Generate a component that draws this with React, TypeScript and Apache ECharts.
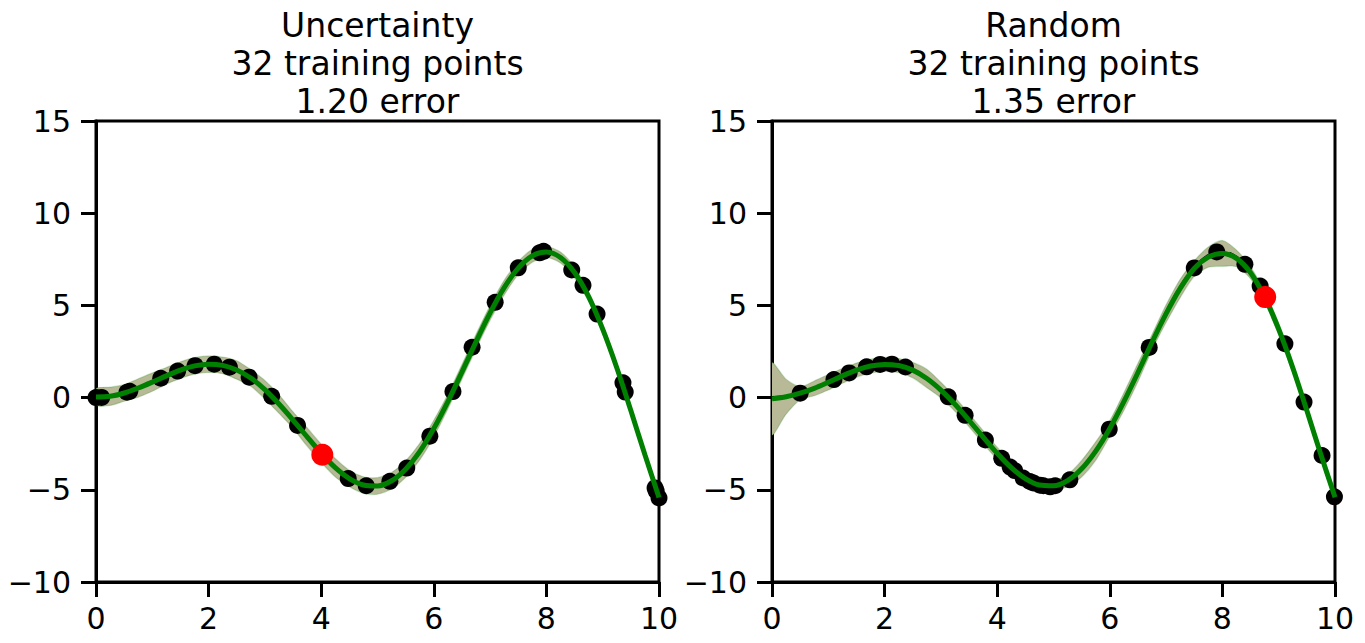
import React, { useEffect, useRef } from "react";
import * as echarts from "echarts";

// sample positions of the curves (x)
const X = [0, 0.25, 0.5, 0.75, 1, 1.25, 1.5, 1.75, 2, 2.25, 2.5, 2.75, 3, 3.25, 3.5, 3.75, 4, 4.25, 4.5, 4.75, 5, 5.25, 5.5, 5.75, 6, 6.25, 6.5, 6.75, 7, 7.25, 7.5, 7.75, 8, 8.25, 8.5, 8.75, 9, 9.25, 9.5, 9.75, 10];

// true function (black dashed)
const TRUE_Y = [0, 0.06, 0.24, 0.51, 0.84, 1.19, 1.5, 1.72, 1.82, 1.75, 1.5, 1.05, 0.42, -0.35, -1.23, -2.14, -3.03, -3.8, -4.4, -4.75, -4.79, -4.51, -3.88, -2.93, -1.68, -0.21, 1.4, 3.04, 4.6, 5.97, 7.04, 7.71, 7.92, 7.61, 6.79, 5.47, 3.71, 1.61, -0.71, -3.12, -5.44];

// left panel: prediction and half-width of the band
const LEFT_MEAN = [0.03, 0.07, 0.25, 0.52, 0.84, 1.18, 1.49, 1.72, 1.81, 1.75, 1.5, 1.06, 0.43, -0.35, -1.22, -2.13, -3.02, -3.8, -4.39, -4.74, -4.79, -4.51, -3.88, -2.93, -1.68, -0.22, 1.39, 3.03, 4.59, 5.96, 7.02, 7.69, 7.9, 7.6, 6.78, 5.47, 3.71, 1.62, -0.7, -3.1, -5.42];
const LEFT_HALF = [0.45, 0.5, 0.45, 0.5, 0.5, 0.45, 0.45, 0.45, 0.45, 0.45, 0.5, 0.45, 0.5, 0.5, 0.45, 0.5, 0.5, 0.5, 0.45, 0.45, 0.45, 0.45, 0.45, 0.45, 0.45, 0.4, 0.4, 0.4, 0.4, 0.4, 0.35, 0.35, 0.3, 0.3, 0.3, 0.25, 0.25, 0.2, 0.2, 0.2, 0.15];

// right panel: prediction and half-width of the band
const RIGHT_MEAN = [-0.07, 0.05, 0.24, 0.5, 0.83, 1.18, 1.49, 1.71, 1.8, 1.74, 1.49, 1.04, 0.41, -0.36, -1.23, -2.14, -3.02, -3.8, -4.39, -4.74, -4.78, -4.5, -3.86, -2.9, -1.67, -0.22, 1.36, 3.0, 4.55, 5.92, 7.0, 7.62, 7.82, 7.55, 6.77, 5.46, 3.71, 1.62, -0.7, -3.1, -5.4];
const RIGHT_HALF = [1.95, 0.95, 0.35, 0.4, 0.42, 0.4, 0.38, 0.38, 0.38, 0.38, 0.42, 0.5, 0.42, 0.38, 0.35, 0.35, 0.33, 0.3, 0.3, 0.3, 0.3, 0.32, 0.45, 0.5, 0.42, 0.48, 0.5, 0.42, 0.48, 0.5, 0.42, 0.55, 0.7, 0.45, 0.32, 0.3, 0.32, 0.3, 0.25, 0.25, 0.22];

// training points
const LEFT_PTS_X = [0, 0.1, 0.55, 0.6, 1.15, 1.45, 1.76, 2.1, 2.37, 2.72, 3.12, 3.58, 4.48, 4.8, 5.22, 5.52, 5.93, 6.34, 6.68, 7.09, 7.5, 7.88, 7.95, 8.45, 8.65, 8.9, 9.36, 9.4, 9.93, 9.95, 10];
const LEFT_PTS_Y = [0, 0.01, 0.29, 0.34, 1.05, 1.44, 1.73, 1.81, 1.65, 1.11, 0.07, -1.51, -4.39, -4.78, -4.54, -3.82, -2.09, 0.33, 2.73, 5.17, 7.04, 7.85, 7.93, 6.92, 6.09, 4.53, 0.8, 0.3, -4.9, -5.06, -5.44];
const RIGHT_PTS_X = [0.5, 1.1, 1.37, 1.68, 1.92, 2.13, 2.37, 3.13, 3.43, 3.79, 4.08, 4.23, 4.31, 4.46, 4.58, 4.64, 4.76, 4.82, 4.94, 5.03, 5.29, 5.99, 6.7, 7.5, 7.9, 8.4, 8.67, 9.11, 9.45, 9.77, 9.99];
const RIGHT_PTS_Y = [0.24, 0.98, 1.34, 1.67, 1.8, 1.81, 1.66, 0.04, -0.96, -2.3, -3.29, -3.77, -3.96, -4.36, -4.55, -4.63, -4.75, -4.78, -4.84, -4.78, -4.46, -1.71, 2.72, 7.03, 7.9, 7.23, 6.05, 2.92, -0.24, -3.14, -5.38];

// next query point (red)
const LEFT_QUERY = [4.02, -3.1];
const RIGHT_QUERY = [8.76, 5.45];

const TITLES = ["Uncertainty\n32 training points\n1.20 error", "Random\n32 training points\n1.35 error"];

const X_TICK = { min: 0, max: 10, interval: 2 };
const Y_TICK = { min: -10, max: 15, interval: 5 };

const FONT = "DejaVu Sans";

export default function App() {
  const ref = useRef<HTMLDivElement>(null);
  useEffect(() => {
    if (!ref.current) return;
    const chart = echarts.init(ref.current, undefined, { renderer: "svg" });
    const grids = [
      { left: 96, top: 121, width: 563, height: 461 },
      { left: 772, top: 121, width: 563, height: 461 },
    ];
    const panels = [
      { mean: LEFT_MEAN, half: LEFT_HALF, px: LEFT_PTS_X, py: LEFT_PTS_Y, q: LEFT_QUERY },
      { mean: RIGHT_MEAN, half: RIGHT_HALF, px: RIGHT_PTS_X, py: RIGHT_PTS_Y, q: RIGHT_QUERY },
    ];
    const axisCommon = {
      axisLine: { show: true, onZero: false, lineStyle: { color: "#000", width: 3 } },
      axisTick: { show: true, inside: false, length: 15, lineStyle: { color: "#000", width: 3 } },
      splitLine: { show: false },
      axisLabel: { color: "#000", fontSize: 30, fontFamily: FONT },
    };
    const xAxis = grids.map((_, i) => ({
      type: "value",
      gridIndex: i,
      ...X_TICK,
      ...axisCommon,
      axisLabel: { ...axisCommon.axisLabel, margin: 21 },
    }));
    const yAxis = grids.map((_, i) => ({
      type: "value",
      gridIndex: i,
      ...Y_TICK,
      ...axisCommon,
      axisLabel: {
        ...axisCommon.axisLabel,
        margin: 25,
        formatter: (v: number) => (v < 0 ? "\u2212" + Math.abs(v) : String(v)),
      },
    }));
    const series: any[] = [];
    panels.forEach((p, i) => {
      const axes = { xAxisIndex: i, yAxisIndex: i };
      const bandData = X.map((x, k) => [x, p.mean[k] - p.half[k], p.mean[k] + p.half[k]]);
      series.push({
        type: "custom", ...axes, silent: true, z: 1, clip: true,
        data: bandData,
        encode: { x: 0, y: [1, 2] },
        renderItem: (params: any, api: any) => {
          if (params.dataIndex !== 0) return null;
          const upper = bandData.map((d) => api.coord([d[0], d[2]]));
          const lower = bandData.map((d) => api.coord([d[0], d[1]])).reverse();
          return {
            type: "group",
            children: [
              {
                type: "polygon",
                shape: { points: upper.concat(lower), smooth: 0.25 },
                style: { fill: "#b8b996", stroke: "rgba(0,128,0,0.22)", lineWidth: 1.2 },
              },
            ],
          };
        },
      });
      series.push({
        type: "line", ...axes,
        data: X.map((x, k) => [x, TRUE_Y[k]]),
        symbol: "none", smooth: 0.3,
        lineStyle: { color: "#000", width: 3, type: [11, 5] }, z: 2,
      });
      series.push({
        type: "scatter", ...axes,
        data: p.px.map((x, k) => [x, p.py[k]]),
        symbolSize: 17, itemStyle: { color: "#000", opacity: 1 }, z: 3,
      });
      series.push({
        type: "line", ...axes,
        data: X.map((x, k) => [x, p.mean[k]]),
        symbol: "none", smooth: 0.3,
        lineStyle: { color: "#008000", width: 5 }, z: 4,
      });
      series.push({
        type: "scatter", ...axes,
        data: [p.q],
        symbolSize: 22, itemStyle: { color: "#ff0000", opacity: 1 }, z: 5,
      });
    });
    chart.setOption({
      animation: false,
      backgroundColor: "#fff",
      grid: grids.map((g) => ({ ...g, show: true, borderColor: "#000", borderWidth: 3, backgroundColor: "transparent" })),
      xAxis,
      yAxis,
      series,
      graphic: grids.map((g, i) => ({
        type: "text",
        x: g.left + g.width / 2,
        y: 63,
        style: {
          text: TITLES[i],
          fill: "#000",
          font: `33px "${FONT}"`,
          lineHeight: 38,
          align: "center",
          verticalAlign: "middle",
        },
      })),
    });
    return () => chart.dispose();
  }, []);
  return <div ref={ref} style={{ position: "absolute", left: 0, top: 0, width: 1365, height: 643 }} />;
}
